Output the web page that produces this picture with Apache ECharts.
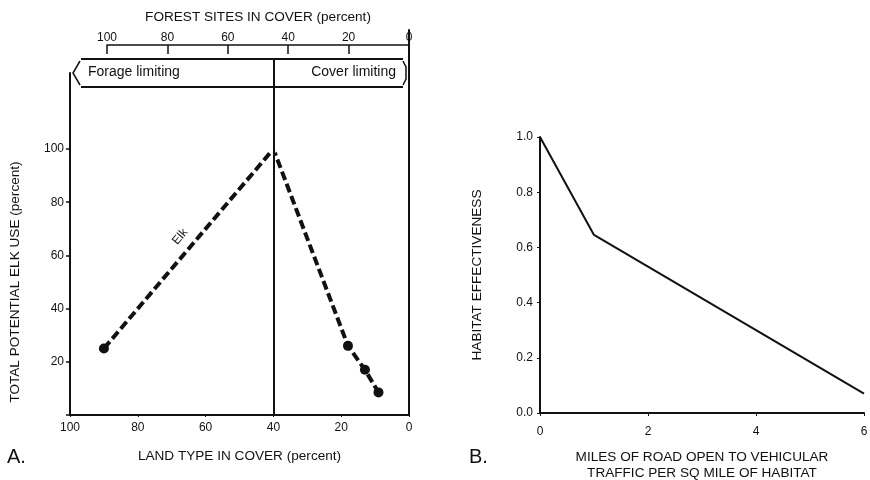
<!DOCTYPE html>
<html>
<head>
<meta charset="utf-8">
<script src="https://cdn.jsdelivr.net/npm/echarts@6/dist/echarts.min.js"></script>
<style>html,body{margin:0;padding:0;background:#fff;}#c{width:870px;height:480px;}</style>
</head>
<body>
<div id="c"></div>
<script>
// Panel A data
const landCover = [90, 40, 18, 13, 9];          // LAND TYPE IN COVER (percent)
const elkUse = [25, 100, 26, 17, 8.5];          // TOTAL POTENTIAL ELK USE (percent)
const peakIndex = 1;
const dividerCover = 40;                         // forage / cover limiting boundary
const zoneLabels = ['Forage limiting', 'Cover limiting'];
// Panel B data
const roadMiles = [0, 1, 6];
const habitatEff = [1.0, 0.645, 0.07];

const FONT = '"Liberation Sans", Arial, Helvetica, sans-serif';
const BLACK = '#111';
const lbl = {color: BLACK, fontFamily: FONT, fontSize: 12};
const nameStyle = {color: BLACK, fontFamily: FONT, fontSize: 13.6};

const hiddenX = (i) => ({gridIndex: i, type: 'value', min: 0, max: 100, inverse: true, show: false, axisLine: {onZero: false}});
const hiddenY = (i) => ({gridIndex: i, type: 'value', min: 0, max: 1, show: false, axisLine: {onZero: false}});
const G = (o) => Object.assign({outerBoundsMode: 'none', containLabel: false}, o);

const chart = echarts.init(document.getElementById('c'), null, {renderer: 'canvas'});
const option = {
  backgroundColor: '#fff',
  animation: false,
  grid: [
    G({left: 70, width: 339, top: 149, bottom: 65}),   // 0 data A
    G({left: 70, width: 339, top: 73, bottom: 65}),    // 1 left frame
    G({left: 70, width: 339, top: 30, bottom: 65}),    // 2 right frame
    G({left: 70, width: 339, top: 59, bottom: 65}),    // 3 divider
    G({left: 107, width: 302, top: 45, bottom: 65}),   // 4 top axis
    G({left: 540, width: 324, top: 137, bottom: 67})   // 5 panel B
  ],
  xAxis: [
    {gridIndex: 0, type: 'value', min: 0, max: 100, interval: 20, inverse: true,
     name: 'LAND TYPE IN COVER (percent)', nameLocation: 'middle', nameGap: 34, nameTextStyle: nameStyle,
     axisLine: {onZero: false, lineStyle: {color: BLACK, width: 2}}, axisTick: {length: 2, lineStyle: {color: BLACK}},
     axisLabel: Object.assign({margin: 7}, lbl), splitLine: {show: false}},
    hiddenX(1), hiddenX(2), hiddenX(3),
    {gridIndex: 4, type: 'value', min: 0, max: 100, interval: 20, inverse: true, position: 'top',
     name: 'FOREST SITES IN COVER (percent)', nameLocation: 'middle', nameGap: 21, nameTextStyle: nameStyle,
     axisLine: {onZero: false, lineStyle: {color: BLACK, width: 1.5}}, axisTick: {inside: true, length: 9, lineStyle: {color: BLACK, width: 1.5}},
     axisLabel: Object.assign({margin: 1}, lbl), splitLine: {show: false}},
    {gridIndex: 5, type: 'value', min: 0, max: 6, interval: 2,
     name: 'MILES OF ROAD OPEN TO VEHICULAR\nTRAFFIC PER SQ MILE OF HABITAT', nameLocation: 'middle', nameGap: 36,
     nameTextStyle: Object.assign({lineHeight: 16}, nameStyle),
     axisLine: {onZero: false, lineStyle: {color: BLACK, width: 2}}, axisTick: {length: 3, lineStyle: {color: BLACK}},
     axisLabel: Object.assign({margin: 13}, lbl), splitLine: {show: false}}
  ],
  yAxis: [
    {gridIndex: 0, type: 'value', min: 0, max: 100, interval: 20,
     name: 'TOTAL POTENTIAL ELK USE (percent)', nameLocation: 'middle', nameGap: 48, nameTextStyle: nameStyle,
     axisLine: {show: false, onZero: false}, axisTick: {length: 4, lineStyle: {color: BLACK, width: 1.5}},
     axisLabel: Object.assign({margin: 6, formatter: v => v === 0 ? '' : String(v)}, lbl), splitLine: {show: false}},
    {gridIndex: 1, type: 'value', min: 0, max: 1, axisLine: {show: true, onZero: false, lineStyle: {color: BLACK, width: 2}},
     axisTick: {show: false}, axisLabel: {show: false}, splitLine: {show: false}},
    {gridIndex: 2, type: 'value', min: 0, max: 1, position: 'right', axisLine: {show: true, onZero: false, lineStyle: {color: BLACK, width: 2}},
     axisTick: {show: false}, axisLabel: {show: false}, splitLine: {show: false}},
    hiddenY(3), hiddenY(4),
    {gridIndex: 5, type: 'value', min: 0, max: 1, interval: 0.2,
     name: 'HABITAT EFFECTIVENESS', nameLocation: 'middle', nameGap: 56, nameTextStyle: nameStyle,
     axisLine: {show: true, onZero: false, lineStyle: {color: BLACK, width: 2}}, axisTick: {show: true, length: 3, lineStyle: {color: BLACK}},
     axisLabel: Object.assign({margin: 7, formatter: v => v.toFixed(1)}, lbl), splitLine: {show: false}}
  ],
  series: [
    {type: 'line', xAxisIndex: 0, yAxisIndex: 0, clip: false,
     data: landCover.map((x, i) => ({
       value: [x, elkUse[i]],
       symbol: i === peakIndex ? 'emptyCircle' : 'circle',
       symbolSize: i === peakIndex ? 6 : 10,
       itemStyle: i === peakIndex ? {color: '#fff', borderColor: BLACK, borderWidth: 1.5} : {color: BLACK}
     })),
     lineStyle: {color: BLACK, width: 4, type: [9, 4]},
     itemStyle: {color: BLACK},
     markPoint: {symbol: 'circle', symbolSize: 0, silent: true,
       data: [{coord: [67.5, 67], label: {show: true, formatter: 'Elk', rotate: 50, color: BLACK, fontFamily: FONT, fontSize: 12, position: 'inside'}}]}
    },
    {type: 'line', xAxisIndex: 3, yAxisIndex: 3, data: [],
     markLine: {symbol: 'none', silent: true, label: {show: false},
       lineStyle: {color: BLACK, width: 2, type: 'solid'}, data: [{xAxis: dividerCover}]}},
    {type: 'line', xAxisIndex: 5, yAxisIndex: 5, clip: false, showSymbol: false, symbol: 'none',
     data: roadMiles.map((x, i) => [x, habitatEff[i]]),
     lineStyle: {color: BLACK, width: 2}}
  ],
  graphic: [
    {type: 'polyline', shape: {points: [[81, 59], [403, 59]]}, style: {stroke: BLACK, lineWidth: 2, fill: null}},
    {type: 'polyline', shape: {points: [[81, 87], [403, 87]]}, style: {stroke: BLACK, lineWidth: 2, fill: null}},
    {type: 'polyline', shape: {points: [[80, 61], [73, 73], [80, 85]]}, style: {stroke: BLACK, lineWidth: 1.5, fill: null}},
    {type: 'polyline', shape: {points: [[403, 61], [406, 67], [406, 79], [403, 85]]}, style: {stroke: BLACK, lineWidth: 1.5, fill: null}},
    {type: 'text', left: 88, top: 65, style: {text: zoneLabels[0], fill: BLACK, font: '14px ' + FONT}},
    {type: 'text', right: 870 - 396, top: 65, style: {text: zoneLabels[1], fill: BLACK, font: '14px ' + FONT}},
    {type: 'text', left: 7, top: 447, style: {text: 'A.', fill: BLACK, font: '20px ' + FONT}},
    {type: 'text', left: 469, top: 447, style: {text: 'B.', fill: BLACK, font: '20px ' + FONT}}
  ]
};
chart.setOption(option);
</script>
</body>
</html>
